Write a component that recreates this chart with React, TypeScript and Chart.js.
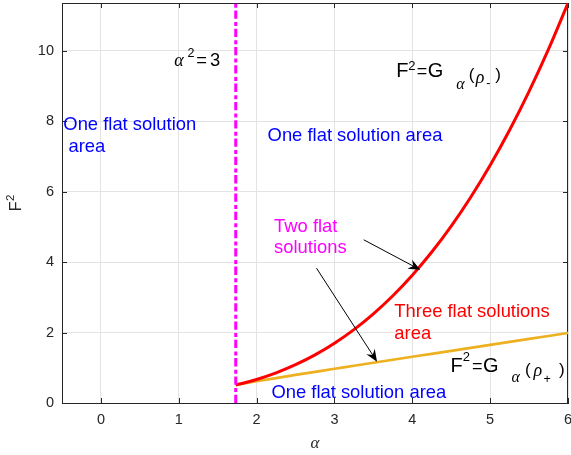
import React, { useEffect, useRef } from 'react';
import { Chart, registerables } from 'chart.js';

Chart.register(...registerables);

// ---------------- data ----------------
const alphaValues = [1.732, 1.8, 2, 2.25, 2.5, 2.75, 3, 3.25, 3.5, 3.75, 4, 4.25, 4.5, 4.75, 5, 5.25, 5.5, 5.75, 6];
const gRhoMinus = [0.513, 0.547, 0.667, 0.854, 1.086, 1.365, 1.696, 2.083, 2.531, 3.044, 3.627, 4.283, 5.019, 5.838, 6.745, 7.745, 8.843, 10.042, 11.348];
const gRhoPlus = [0.513, 0.541, 0.617, 0.708, 0.797, 0.884, 0.971, 1.056, 1.142, 1.227, 1.312, 1.396, 1.481, 1.565, 1.65, 1.734, 1.818, 1.902, 1.986];
const thresholdAlpha = [1.732, 1.732];
const thresholdF2 = [0, 11.35];
const xTickValues = [0, 1, 2, 3, 4, 5, 6];
const yTickValues = [0, 2, 4, 6, 8, 10];
const xRange = [-0.5, 6];
const yRange = [0, 11.35];

const xTitle = 'α';
const yTitle = 'F';
const yTitleSup = '2';

// plain text notes
const noteLeftArea = ['One flat solution', ' area'];
const noteMidArea = ['One flat solution area'];
const noteTwo = ['Two flat', 'solutions'];
const noteThree = ['Three flat solutions', 'area'];
const noteBottomArea = ['One flat solution area'];

// arrows: [fromAlpha, fromF2, toAlpha, toF2]
const arrowToMinus = [3.376, 4.631, 4.103, 3.778];
const arrowToPlus = [2.769, 3.827, 3.547, 1.173];

// ---------------- styles ----------------
const SANS = '"Liberation Sans", Arial, Helvetica, sans-serif';
const SERIF = '"Liberation Serif", "Times New Roman", serif';
const AXIS = '#262626';
const GRID = '#e3e3e3';
const TXT = 18.4;

type Seg = { t: string; dx: number; dy: number; font: string };

const alphaEqSegs: Seg[] = [
  { t: 'α', dx: 0, dy: 0, font: `italic 18px ${SERIF}` },
  { t: '2', dx: 13.3, dy: -8.7, font: `12.5px ${SANS}` },
  { t: '=', dx: 22.1, dy: 0, font: `${TXT}px ${SANS}` },
  { t: '3', dx: 35.7, dy: 0, font: `${TXT}px ${SANS}` },
];
const topLabelSegs: Seg[] = [
  { t: 'F', dx: 0, dy: 0, font: `20px ${SANS}` },
  { t: '2', dx: 12, dy: -7.5, font: `13px ${SANS}` },
  { t: '=', dx: 20.5, dy: 0, font: `18px ${SANS}` },
  { t: 'G', dx: 31.5, dy: 0, font: `20px ${SANS}` },
  { t: 'α', dx: 60, dy: 11.5, font: `italic 16px ${SERIF}` },
  { t: '(', dx: 72.5, dy: 2.7, font: `17px ${SANS}` },
  { t: 'ρ', dx: 79.5, dy: 5.6, font: `italic 18px ${SERIF}` },
  { t: '-', dx: 90, dy: 10.3, font: `12.5px ${SANS}` },
  { t: ')', dx: 99, dy: 2.7, font: `17px ${SANS}` },
];
const bottomLabelSegs: Seg[] = [
  { t: 'F', dx: 0, dy: 0, font: `20px ${SANS}` },
  { t: '2', dx: 12.3, dy: -11, font: `13px ${SANS}` },
  { t: '=', dx: 21.5, dy: 0, font: `18px ${SANS}` },
  { t: 'G', dx: 32.5, dy: 0, font: `20px ${SANS}` },
  { t: 'α', dx: 61, dy: 10, font: `italic 16px ${SERIF}` },
  { t: '(', dx: 74.5, dy: 2.3, font: `17px ${SANS}` },
  { t: 'ρ', dx: 83, dy: 3.7, font: `italic 18px ${SERIF}` },
  { t: '+', dx: 93, dy: 10.7, font: `12.5px ${SANS}` },
  { t: ')', dx: 108.5, dy: 2.3, font: `17px ${SANS}` },
];

const notes = [
  { lines: noteLeftArea, at: [-0.483, 7.736], color: '#0000ff', lh: 22 },
  { lines: noteMidArea, at: [2.141, 7.423], color: '#0000ff', lh: 22 },
  { lines: noteTwo, at: [2.224, 4.866], color: '#ff00ff', lh: 21.6 },
  { lines: noteThree, at: [3.769, 2.452], color: '#ff0000', lh: 22.3 },
  { lines: noteBottomArea, at: [2.19, 0.134], color: '#0000ff', lh: 22 },
];
const richLabels = [
  { segs: alphaEqSegs, at: [0.942, 9.574] },
  { segs: topLabelSegs, at: [3.795, 9.25] },
  { segs: bottomLabelSegs, at: [4.49, 0.872] },
];

function drawSegs(ctx: CanvasRenderingContext2D, x0: number, y0: number, segs: Seg[]) {
  for (const s of segs) {
    ctx.font = s.font;
    ctx.fillText(s.t, x0 + s.dx, y0 + s.dy);
  }
}

function drawArrow(ctx: CanvasRenderingContext2D, x1: number, y1: number, x2: number, y2: number) {
  const dx = x2 - x1, dy = y2 - y1;
  const len = Math.hypot(dx, dy);
  const ux = dx / len, uy = dy / len;
  const nx = -uy, ny = ux;
  const L = 12, W = 5, notch = 8;
  ctx.beginPath();
  ctx.moveTo(x1, y1);
  ctx.lineTo(x2 - ux * notch, y2 - uy * notch);
  ctx.stroke();
  ctx.beginPath();
  ctx.moveTo(x2, y2);
  ctx.lineTo(x2 - ux * L + nx * W, y2 - uy * L + ny * W);
  ctx.lineTo(x2 - ux * notch, y2 - uy * notch);
  ctx.lineTo(x2 - ux * L - nx * W, y2 - uy * L - ny * W);
  ctx.closePath();
  ctx.fill();
}

const decorPlugin = {
  id: 'decor',
  beforeDatasetsDraw(chart: any) {
    const { ctx, chartArea: a, scales } = chart;
    const xs = scales.x, ys = scales.y;
    ctx.save();
    ctx.strokeStyle = AXIS;
    ctx.lineWidth = 1;
    ctx.beginPath();
    ctx.moveTo(a.left, Math.round(a.top) + 0.5);
    ctx.lineTo(a.right, Math.round(a.top) + 0.5);
    ctx.moveTo(Math.round(a.right) - 0.5, a.top);
    ctx.lineTo(Math.round(a.right) - 0.5, a.bottom);
    const tl = 5;
    for (const v of xTickValues) {
      const px = Math.round(xs.getPixelForValue(v)) + 0.5;
      ctx.moveTo(px, a.bottom);
      ctx.lineTo(px, a.bottom - tl);
      ctx.moveTo(px, a.top);
      ctx.lineTo(px, a.top + tl);
    }
    for (const v of yTickValues) {
      const py = Math.round(ys.getPixelForValue(v)) + 0.5;
      ctx.moveTo(a.left, py);
      ctx.lineTo(a.left + tl, py);
      ctx.moveTo(a.right, py);
      ctx.lineTo(a.right - tl, py);
    }
    ctx.stroke();
    ctx.restore();
  },
  afterDatasetsDraw(chart: any) {
    const { ctx, chartArea: a, scales } = chart;
    const xs = scales.x, ys = scales.y;
    ctx.save();
    ctx.textAlign = 'left';
    ctx.textBaseline = 'alphabetic';
    for (const n of notes) {
      ctx.fillStyle = n.color;
      ctx.font = `${TXT}px ${SANS}`;
      const x0 = xs.getPixelForValue(n.at[0]);
      const y0 = ys.getPixelForValue(n.at[1]);
      n.lines.forEach((ln, i) => ctx.fillText(ln, x0, y0 + i * n.lh));
    }
    ctx.fillStyle = '#000000';
    for (const r of richLabels) {
      drawSegs(ctx, xs.getPixelForValue(r.at[0]), ys.getPixelForValue(r.at[1]), r.segs);
    }
    ctx.strokeStyle = '#000000';
    ctx.fillStyle = '#000000';
    ctx.lineWidth = 1;
    for (const ar of [arrowToMinus, arrowToPlus]) {
      drawArrow(
        ctx,
        xs.getPixelForValue(ar[0]), ys.getPixelForValue(ar[1]),
        xs.getPixelForValue(ar[2]), ys.getPixelForValue(ar[3])
      );
    }
    // axis titles
    ctx.fillStyle = AXIS;
    ctx.textAlign = 'center';
    ctx.font = `italic 17px ${SERIF}`;
    ctx.fillText(xTitle, (a.left + a.right) / 2, 448);
    ctx.translate(20.5, (a.top + a.bottom) / 2);
    ctx.rotate(-Math.PI / 2);
    ctx.textAlign = 'left';
    ctx.font = `16px ${SANS}`;
    const wF = ctx.measureText(yTitle).width;
    ctx.font = `11.5px ${SANS}`;
    const w2 = ctx.measureText(yTitleSup).width;
    const start = -(wF + w2 + 0.5) / 2;
    ctx.font = `16px ${SANS}`;
    ctx.fillText(yTitle, start, 0);
    ctx.font = `11.5px ${SANS}`;
    ctx.fillText(yTitleSup, start + wF + 0.5, -6.5);
    ctx.restore();
  },
};

export default function App() {
  const canvasRef = useRef<HTMLCanvasElement | null>(null);

  useEffect(() => {
    document.body.style.margin = '0';
    const canvas = canvasRef.current;
    if (!canvas) return;
    const toPts = (xs: number[], ys: number[]) => xs.map((x, i) => ({ x, y: ys[i] }));

    const tickFont = { family: SANS, size: 14.5 };
    const chart = new Chart(canvas, {
      type: 'scatter',
      data: {
        datasets: [
          {
            label: 'alpha^2 = 3',
            data: toPts(thresholdAlpha, thresholdF2),
            showLine: true,
            borderColor: '#ff00ff',
            borderWidth: 3,
            borderDash: [8.3, 2.7, 4, 3.3],
            borderCapStyle: 'butt',
            pointRadius: 0,
            clip: 0,
            order: 0,
          },
          {
            label: 'G(rho-)',
            data: toPts(alphaValues, gRhoMinus),
            showLine: true,
            borderColor: '#ff0000',
            borderWidth: 3,
            cubicInterpolationMode: 'monotone',
            pointRadius: 0,
            clip: 0,
            order: 1,
          },
          {
            label: 'G(rho+)',
            data: toPts(alphaValues, gRhoPlus),
            showLine: true,
            borderColor: '#EDB120',
            borderWidth: 2.7,
            cubicInterpolationMode: 'monotone',
            pointRadius: 0,
            clip: 0,
            order: 2,
          },
        ],
      } as any,
      options: {
        animation: false,
        responsive: false,
        devicePixelRatio: 1,
        events: [],
        layout: { padding: { top: 3, right: 3, left: 0, bottom: 0 } },
        plugins: { legend: { display: false }, tooltip: { enabled: false } },
        scales: {
          x: {
            type: 'linear',
            min: xRange[0],
            max: xRange[1],
            afterBuildTicks: (s: any) => {
              s.ticks = xTickValues.map((v) => ({ value: v }));
            },
            afterFit: (s: any) => {
              s.height = 52;
              s.paddingLeft = 0;
              s.paddingRight = 0;
              s.paddingTop = 0;
              s.paddingBottom = 0;
            },
            grid: { color: GRID, lineWidth: 1, drawTicks: false, tickLength: 0 },
            border: { display: true, color: AXIS, width: 1 },
            ticks: { padding: 8, color: AXIS, font: tickFont, autoSkip: false, maxRotation: 0 },
          },
          y: {
            type: 'linear',
            min: yRange[0],
            max: yRange[1],
            afterBuildTicks: (s: any) => {
              s.ticks = yTickValues.map((v) => ({ value: v }));
            },
            afterFit: (s: any) => {
              s.width = 62;
              s.paddingLeft = 0;
              s.paddingRight = 0;
              s.paddingTop = 0;
              s.paddingBottom = 0;
            },
            grid: { color: GRID, lineWidth: 1, drawTicks: false, tickLength: 0 },
            border: { display: true, color: AXIS, width: 1 },
            ticks: { padding: 8, color: AXIS, font: tickFont, autoSkip: false },
          },
        },
      } as any,
      plugins: [decorPlugin],
    });
    return () => chart.destroy();
  }, []);

  return (
    <div style={{ position: 'absolute', left: 0, top: 0, width: 571, height: 455, background: '#fff' }}>
      <canvas ref={canvasRef} width={571} height={455} style={{ width: 571, height: 455, display: 'block' }} />
    </div>
  );
}
